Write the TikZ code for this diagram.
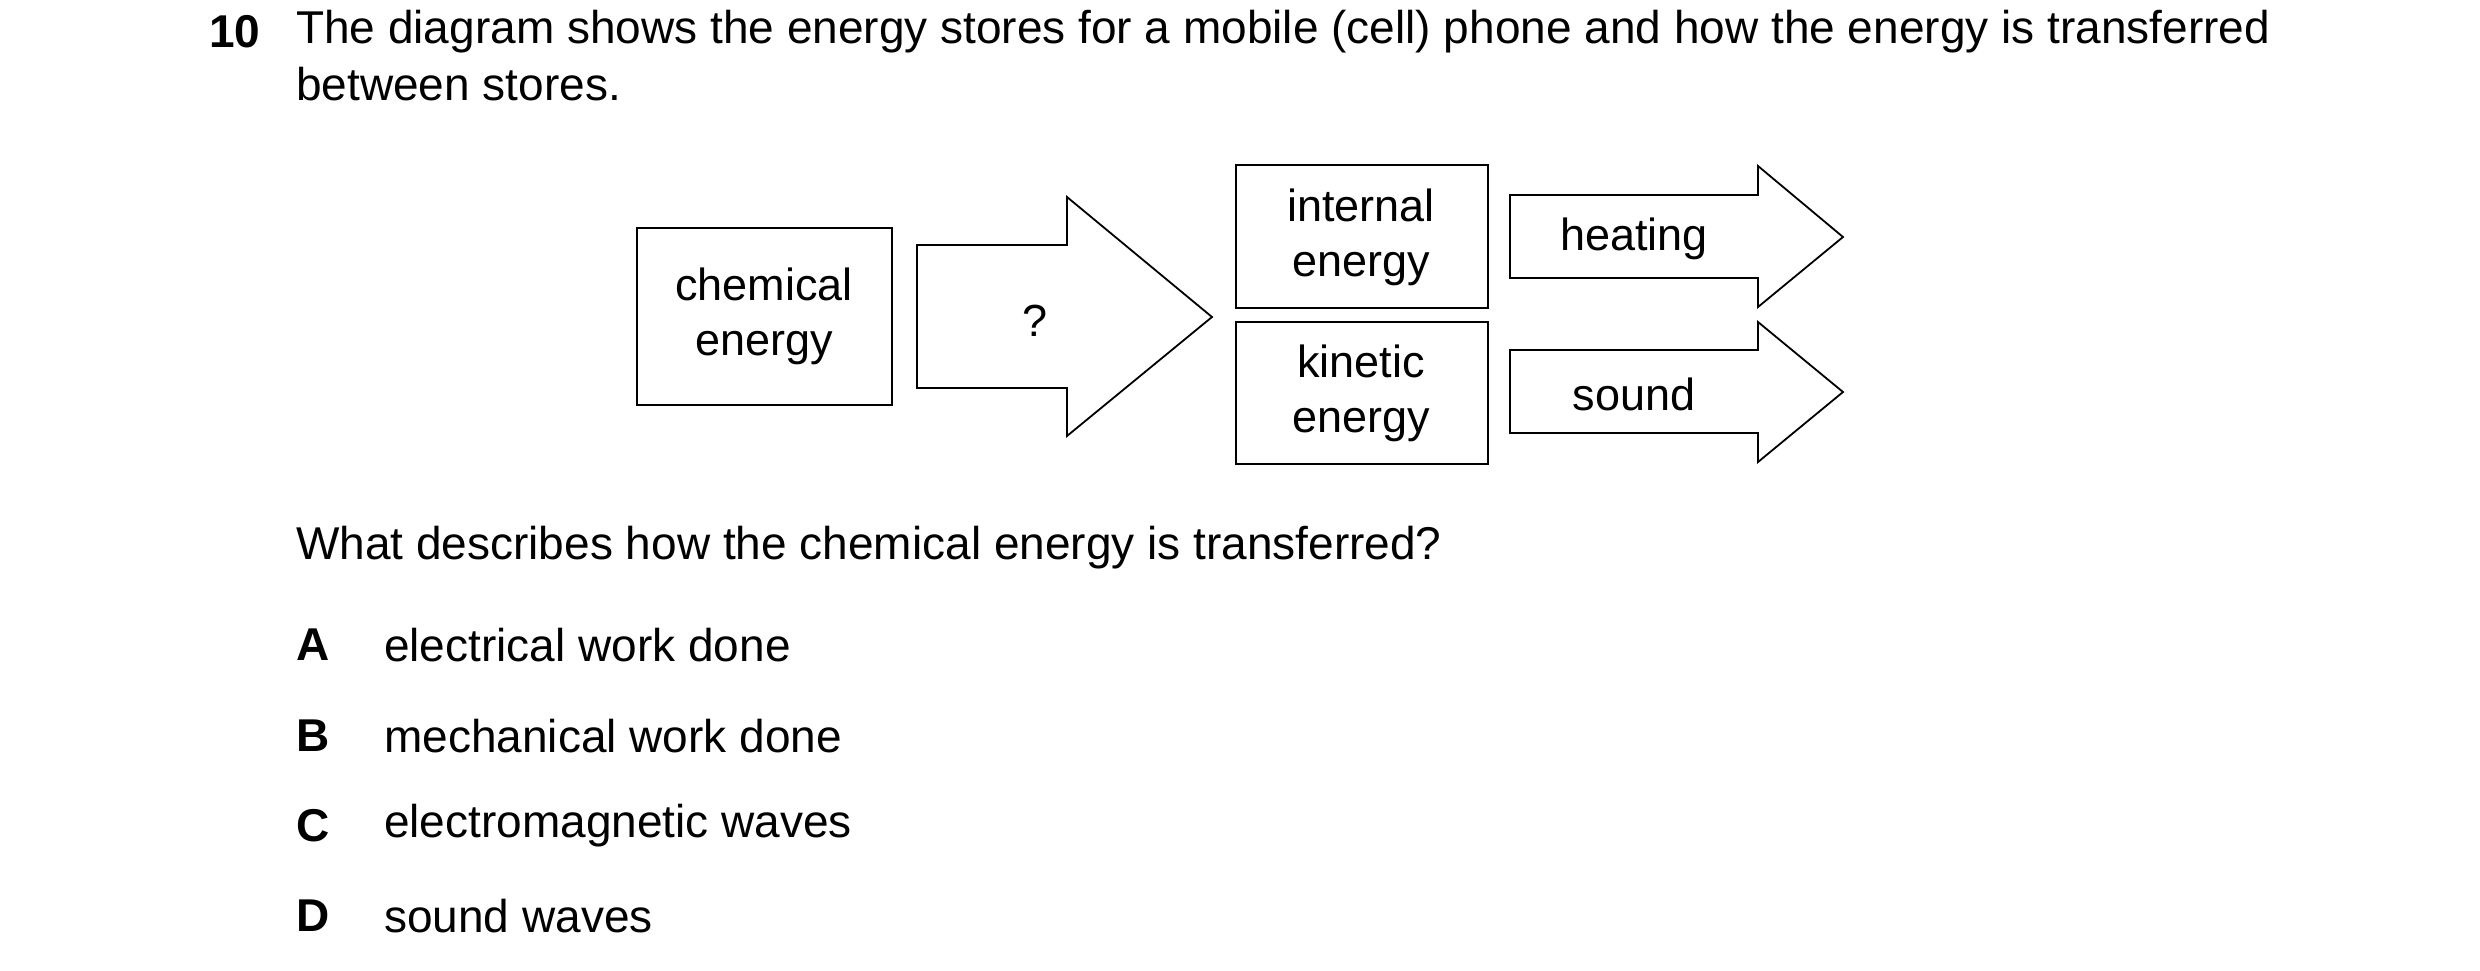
\documentclass[tikz,border=0pt]{standalone}
\usepackage{fontspec}
\setmainfont{Liberation Sans}
\begin{document}
\begin{tikzpicture}[x=1pt,y=-1pt,
  txt/.style={inner sep=0pt,font=\fontsize{46}{55}\selectfont},
  lbl/.style={inner sep=0pt,font=\fontsize{45}{55}\selectfont,align=center},
  bx/.style={draw,line width=2pt},
  ar/.style={draw,line width=1.8pt,line join=miter}]
\useasboundingbox (0,0) rectangle (2480,971);
\node[txt,anchor=west,font=\fontsize{46}{55}\bfseries] (q) at (209,32) {10};
\node[txt,anchor=west] (t1) at (296,32) {The diagram shows the energy stores for a mobile (cell) phone and how the energy is transferred};
\node[txt,anchor=west] (t2) at (296,84) {between stores.};
\node[txt,anchor=west] (w) at (296,548) {What describes how the chemical energy is transferred?};
\foreach \L/\T/\Y in {A/electrical work done/645,B/mechanical work done/736,C/electromagnetic waves/826,D/sound waves/916}{
  \node[txt,anchor=west,font=\fontsize{46}{55}\bfseries] (l\L) at (296,\Y) {\L};
  \node[txt,anchor=west] (o\L) at (384,\Y) {\T};
}
\draw[bx] (637,228) rectangle (892,405);
\node[lbl] (chem) at (764,316) {chemical\\energy};
\draw[ar] (917,245) -- (1067,245) -- (1067,197) -- (1212,317) -- (1067,436) -- (1067,388) -- (917,388) -- cycle;
\node[lbl] (qm) at (1035,321) {?};
\draw[bx] (1236,165) rectangle (1488,308);
\node[lbl] (int) at (1361,237) {internal\\energy};
\draw[bx] (1236,322) rectangle (1488,464);
\node[lbl] (kin) at (1361,393) {kinetic\\energy};
\draw[ar] (1510,195) -- (1758,195) -- (1758,166) -- (1843,237) -- (1758,307) -- (1758,278) -- (1510,278) -- cycle;
\node[lbl] (heat) at (1634,239) {heating};
\draw[ar] (1510,350) -- (1758,350) -- (1758,322) -- (1843,392) -- (1758,462) -- (1758,433) -- (1510,433) -- cycle;
\node[lbl] (snd) at (1634,394) {sound};
\end{tikzpicture}
\end{document}
